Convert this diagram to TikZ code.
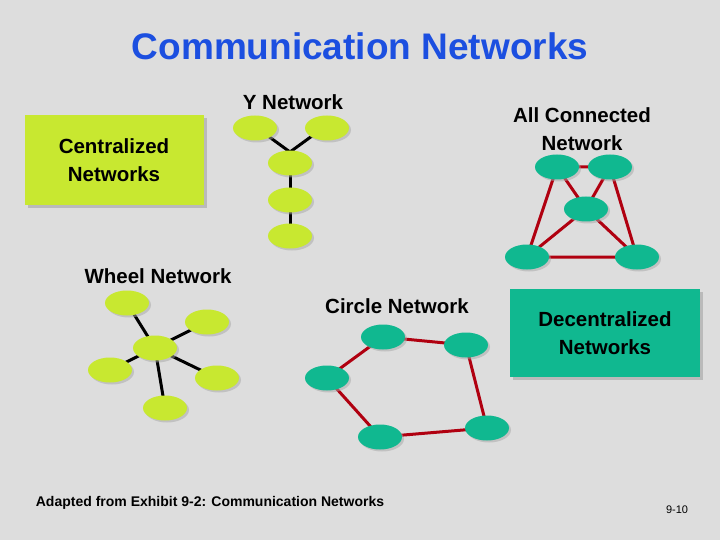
\documentclass[tikz,border=0pt]{standalone}
\usepackage{fontspec}
\setmainfont{Liberation Sans}
\usetikzlibrary{shapes.geometric,shadows}
\definecolor{bg}{HTML}{DDDDDD}
\definecolor{lime}{HTML}{C8E830}
\definecolor{teal}{HTML}{10B890}
\definecolor{dred}{HTML}{B00010}
\definecolor{tblue}{HTML}{1C4FE0}
\tikzset{
  ynode/.style={ellipse,minimum width=44pt,minimum height=25pt,inner sep=0pt,fill=lime,drop shadow={shadow xshift=2pt,shadow yshift=-2pt,fill=gray!70}},
  tnode/.style={ellipse,minimum width=44pt,minimum height=25pt,inner sep=0pt,fill=teal,drop shadow={shadow xshift=2pt,shadow yshift=-2pt,fill=gray!70}},
  blk/.style={line width=3pt,black},
  red/.style={line width=3pt,dred},
  lbl/.style={font=\fontsize{20.5}{28}\selectfont\bfseries,align=center},
}
\begin{document}
\begin{tikzpicture}[x=1pt,y=-1pt]
\fill[bg] (0,0) rectangle (720,540);
\useasboundingbox (0,0) rectangle (720,540);
\node[text=tblue] (title) at (360,46) {\fontsize{37}{42}\selectfont\bfseries Communication Networks};
% boxes
\node[fill=lime,minimum width=179pt,minimum height=90pt,lbl,drop shadow={shadow xshift=3pt,shadow yshift=-3pt,fill=gray!80}] (cent) at (114,160) {Centralized\\Networks};
\node[fill=teal,minimum width=190pt,minimum height=88pt,lbl,drop shadow={shadow xshift=3pt,shadow yshift=-3pt,fill=gray!80}] (dec) at (605,333) {Decentralized\\Networks};
% labels
\node[lbl] (ylab) at (293,102) {Y Network};
\node[lbl] (alab) at (582,129) {All Connected\\Network};
\node[lbl] (wlab) at (158,276) {Wheel Network};
\node[lbl] (clab) at (397,306) {Circle Network};
\node[font=\fontsize{14}{16}\selectfont\bfseries] (foot) at (210,503) {Adapted from Exhibit 9-2: Communication Networks};
\node[font=\fontsize{11}{13}\selectfont] (pg) at (677,510) {9-10};
% Y network
\coordinate (yj) at (290,152);
\draw[blk] (268,136) -- (yj) -- (312,136);
\draw[blk] (290,165) -- (290,225);
\node[ynode] (y1) at (255,128) {};
\node[ynode] (y2) at (327,128) {};
\node[ynode] (y3) at (290,163) {};
\node[ynode] (y4) at (290,200) {};
\node[ynode] (y5) at (290,236) {};
% Wheel
\coordinate (w0) at (155,348);
\draw[blk] (w0) -- (127,303) (w0) -- (207,322) (w0) -- (110,370) (w0) -- (217,378) (w0) -- (165,408);
\node[ynode] (w1) at (127,303) {};
\node[ynode] (w2) at (207,322) {};
\node[ynode] (w3) at (110,370) {};
\node[ynode] (w4) at (217,378) {};
\node[ynode] (w5) at (165,408) {};
\node[ynode] (wh) at (155,348) {};
% All connected
\coordinate (a1) at (557,167); \coordinate (a2) at (610,167); \coordinate (a3) at (586,209);
\coordinate (a4) at (527,257); \coordinate (a5) at (637,257);
\draw[red] (a1)--(a2) (a1)--(a3) (a1)--(a4) (a2)--(a3) (a2)--(a5) (a3)--(a4) (a3)--(a5) (a4)--(a5);
\node[tnode] (n1) at (a1) {};
\node[tnode] (n2) at (a2) {};
\node[tnode] (n3) at (a3) {};
\node[tnode] (n4) at (a4) {};
\node[tnode] (n5) at (a5) {};
% Circle
\coordinate (c1) at (383,337); \coordinate (c2) at (466,345); \coordinate (c3) at (487,428);
\coordinate (c4) at (380,437); \coordinate (c5) at (327,378);
\draw[red] (c1)--(c2)--(c3)--(c4)--(c5)--cycle;
\node[tnode] (k1) at (c1) {};
\node[tnode] (k2) at (c2) {};
\node[tnode] (k3) at (c3) {};
\node[tnode] (k4) at (c4) {};
\node[tnode] (k5) at (c5) {};
\end{tikzpicture}
\end{document}
